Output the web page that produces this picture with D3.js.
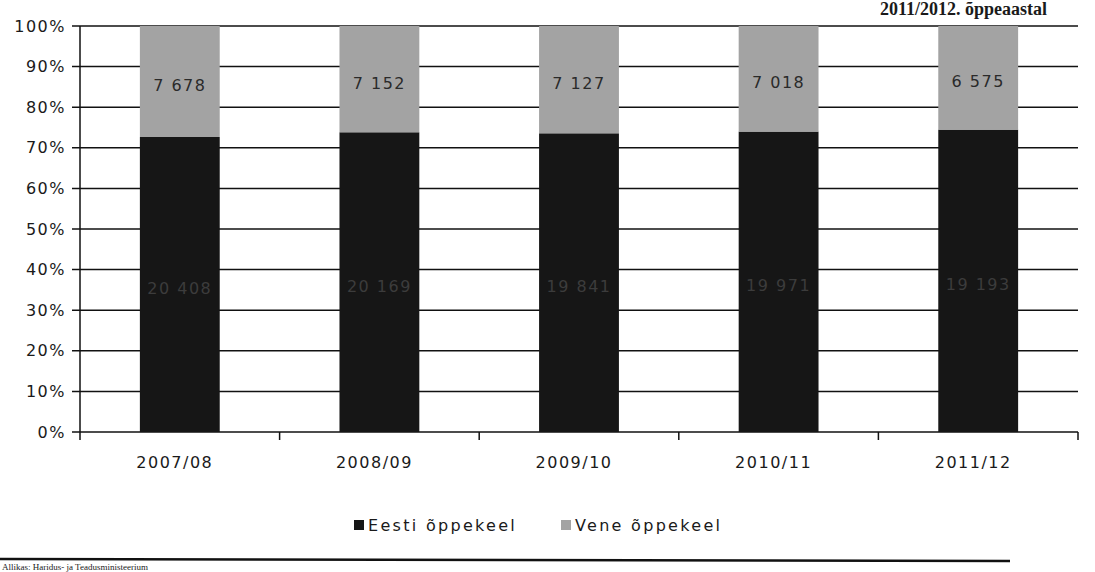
<!DOCTYPE html>
<html>
<head>
<meta charset="utf-8">
<script src="https://cdn.jsdelivr.net/npm/d3@7"></script>
<style>
  body { margin: 0; background: #fff; }
  text { font-family: "DejaVu Sans", Verdana, sans-serif; fill: #1a1a1a; }
</style>
</head>
<body>
<div id="chart"></div>
<script>
// data
var categories = ["2007/08", "2008/09", "2009/10", "2010/11", "2011/12"];
var eesti = [20408, 20169, 19841, 19971, 19193];
var vene = [7678, 7152, 7127, 7018, 6575];
var seriesNames = ["Eesti õppekeel", "Vene õppekeel"];
var yTicks = [0, 0.1, 0.2, 0.3, 0.4, 0.5, 0.6, 0.7, 0.8, 0.9, 1];

var rows = [];
for (var i = 0; i < categories.length; i++) {
  rows.push({cat: categories[i], eesti: eesti[i], vene: vene[i]});
}

var W = 1095, H = 572;
var margin = {top: 26, right: 17, bottom: 140, left: 80},
  width = W - margin.left - margin.right,
  height = H - margin.top - margin.bottom;

var colors = {eesti: "#161616", vene: "#a3a3a3"};

var svgRoot = d3.select("#chart").append("svg")
  .attr("width", W)
  .attr("height", H);

// title fragment at the very top (the scan cut the rest off)
svgRoot.append("text")
  .attr("x", 880).attr("y", 15)
  .style("font-family", "'Liberation Serif', serif")
  .style("font-weight", "bold")
  .style("font-size", "18px")
  .text("2011/2012. õppeaastal");

var svg = svgRoot.append("g")
  .attr("transform", "translate(" + margin.left + "," + margin.top + ")");

var x = d3.scaleBand()
  .domain(categories)
  .range([0, width])
  .paddingInner(0.6)
  .paddingOuter(0.3);

var y = d3.scaleLinear()
  .domain([0, 1])
  .range([height, 0]);

// gridlines + y labels
svg.append("g")
  .selectAll("line")
  .data(yTicks)
  .enter()
  .append("line")
    .attr("x1", -8)
    .attr("x2", width)
    .attr("y1", function (d) { return y(d); })
    .attr("y2", function (d) { return y(d); })
    .style("stroke", "#111")
    .style("stroke-width", 1.5);

svg.append("g")
  .selectAll("text")
  .data(yTicks)
  .enter()
  .append("text")
    .attr("x", -14)
    .attr("y", function (d) { return y(d); })
    .attr("dy", "0.35em")
    .attr("text-anchor", "end")
    .style("font-size", "16px")
    .style("letter-spacing", "1.5px")
    .text(function (d) { return Math.round(d * 100) + "%"; });

// stacked bars (100%)
var stack = d3.stack()
  .keys(["eesti", "vene"])
  .offset(d3.stackOffsetExpand);
var stacked = stack(rows);

var fmt = function (v) { return d3.format(",")(v).replace(/,/g, " "); };

var layers = svg.selectAll(".layer")
  .data(stacked)
  .enter()
  .append("g")
    .attr("class", "layer")
    .style("fill", function (d) { return colors[d.key]; });

layers.selectAll("rect")
  .data(function (d) { return d; })
  .enter()
  .append("rect")
    .attr("x", function (d) { return x(d.data.cat); })
    .attr("width", x.bandwidth())
    .attr("y", function (d) { return y(d[1]); })
    .attr("height", function (d) { return y(d[0]) - y(d[1]); });

layers.each(function (layer) {
  d3.select(this).selectAll("text")
    .data(layer)
    .enter()
    .append("text")
      .attr("x", function (d) { return x(d.data.cat) + x.bandwidth() / 2; })
      .attr("y", function (d) { return y((d[0] + d[1]) / 2) + 4; })
      .attr("dy", "0.35em")
      .attr("text-anchor", "middle")
      .style("font-size", "16px")
      .style("letter-spacing", "1.5px")
      .style("fill", layer.key === "eesti" ? "#3c3c3c" : "#2a2a2a")
      .text(function (d) { return fmt(d.data[layer.key]); });
});

// axes lines
svg.append("line")
  .attr("x1", 0).attr("x2", 0)
  .attr("y1", 0).attr("y2", height)
  .style("stroke", "#111").style("stroke-width", 1.5);

var bounds = d3.range(categories.length + 1).map(function (i) { return i * width / categories.length; });
svg.append("g")
  .selectAll("line")
  .data(bounds)
  .enter()
  .append("line")
    .attr("x1", function (d) { return d; })
    .attr("x2", function (d) { return d; })
    .attr("y1", height)
    .attr("y2", height + 8)
    .style("stroke", "#111")
    .style("stroke-width", 1.5);

svg.append("g")
  .selectAll("text")
  .data(categories)
  .enter()
  .append("text")
    .attr("x", function (d) { return x(d) + x.bandwidth() / 2 - 5; })
    .attr("y", height + 36)
    .attr("text-anchor", "middle")
    .style("font-size", "16px")
    .style("letter-spacing", "1.5px")
    .text(function (d) { return d; });

// legend
var legend = svgRoot.append("g").attr("transform", "translate(0,525)");
var legendX = [354, 561];
seriesNames.forEach(function (name, i) {
  var key = i === 0 ? "eesti" : "vene";
  legend.append("rect")
    .attr("x", legendX[i]).attr("y", -5)
    .attr("width", 10).attr("height", 10)
    .style("fill", colors[key]);
  legend.append("text")
    .attr("x", legendX[i] + 14).attr("y", 0)
    .attr("dy", "0.35em")
    .style("font-size", "16px")
    .style("letter-spacing", "2.3px")
    .text(name);
});

// source rule and source line at the bottom
svgRoot.append("line")
  .attr("x1", 0).attr("x2", 1010)
  .attr("y1", 559).attr("y2", 561)
  .style("stroke", "#111").style("stroke-width", 2.5);
svgRoot.append("text")
  .attr("x", 2).attr("y", 570)
  .style("font-family", "'Liberation Serif', serif")
  .style("font-size", "9px")
  .text("Allikas: Haridus- ja Teadusministeerium");
</script>
</body>
</html>
